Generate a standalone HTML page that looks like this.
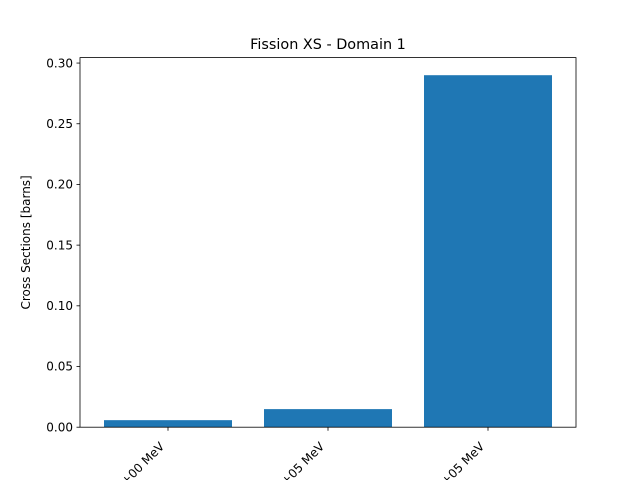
<!DOCTYPE html>
<html><head><meta charset="utf-8"><style>
html,body{margin:0;padding:0;background:#fff;width:640px;height:480px;overflow:hidden;}
svg{display:block;font-family:"DejaVu Sans","Liberation Sans",sans-serif;}
</style></head><body>
<svg id="chart" width="640" height="480" viewBox="0 0 640 480" xmlns="http://www.w3.org/2000/svg" overflow="hidden">
<rect width="640" height="480" fill="#fff"/>
<text x="328" y="49" font-size="14.4" text-anchor="middle">Fission XS - Domain 1</text>
<text transform="translate(30,242.4) rotate(-90)" font-size="12" text-anchor="middle">Cross Sections [barns]</text>
<g id="bars"></g>
<g id="yticks"></g>
<g id="xticks"></g>
<rect x="80" y="57.6" width="496" height="369.6" fill="none" stroke="#000" stroke-width="0.8"/>
</svg>
<script>
const categories = ["0.00e+00 - 1.00e+00 MeV", "1.00e+00 - 1.00e+05 MeV", "1.00e+05 - 2.00e+05 MeV"];
const values = [0.0058, 0.0149, 0.29];
const yTicks = [0, 0.05, 0.10, 0.15, 0.20, 0.25, 0.30];
const yTickLabels = ["0.00","0.05","0.10","0.15","0.20","0.25","0.30"];

const L=80,R=576,T=57.6,B=427.2;
const ymax = Math.max(...values)*1.05;
const xmin=-0.55, xmax=categories.length-1+0.55;
const xs=v=>L+(v-xmin)/(xmax-xmin)*(R-L);
const ys=v=>B-v/ymax*(B-T);
const NS="http://www.w3.org/2000/svg";
const mk=(t,a)=>{const e=document.createElementNS(NS,t);for(const k in a)e.setAttribute(k,a[k]);return e;};
const bars=document.getElementById('bars'), yt=document.getElementById('yticks'), xt=document.getElementById('xticks');
values.forEach((v,i)=>{
  const x0=xs(i-0.4), x1=xs(i+0.4);
  const r=mk('rect',{x:x0,y:ys(v),width:x1-x0,height:B-ys(v),fill:'#1f77b4'});
  
  
  bars.appendChild(r);
  const cx=xs(i);
  const tk=mk('line',{x1:cx,x2:cx,y1:B,y2:B+3.5,stroke:'#000','stroke-width':0.8});
  
  
  xt.appendChild(tk);
  const tx=mk('text',{transform:`translate(${cx-3},${B+20}) rotate(-45)`,'font-size':12,'text-anchor':'end'});
  
  
  tx.textContent=categories[i];
  xt.appendChild(tx);
});
yTicks.forEach((v,i)=>{
  const y=ys(v);
  const tk=mk('line',{x1:L-3.5,x2:L,y1:y,y2:y,stroke:'#000','stroke-width':0.8});
  
  
  yt.appendChild(tk);
  const tx=mk('text',{x:L-7,y:y+4.2,'font-size':12,'text-anchor':'end'});
  
  
  tx.textContent=yTickLabels[i];
  yt.appendChild(tx);
});
</script>
</body></html>
